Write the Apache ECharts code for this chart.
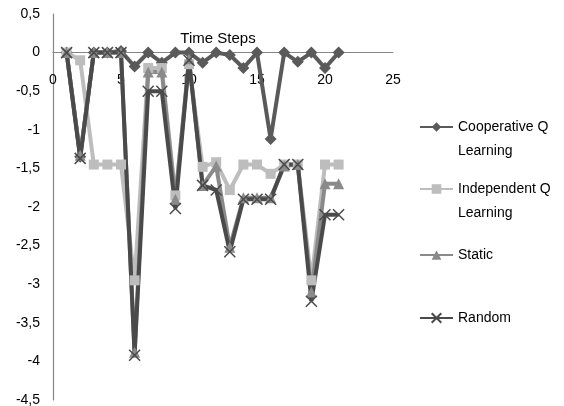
<!DOCTYPE html>
<html><head><meta charset="utf-8">
<script src="https://cdn.jsdelivr.net/npm/echarts@6/dist/echarts.min.js"></script>
<style>html,body{margin:0;padding:0;background:#fff}#c{width:564px;height:406px}</style>
</head><body><div id="c"></div>
<script>
const timeSteps = [1,2,3,4,5,6,7,8,9,10,11,12,13,14,15,16,17,18,19,20,21];
const cooperativeQ = [0,-1.35,0,0,0.02,-0.18,0,-0.13,0,0,-0.13,0,-0.03,-0.2,0,-1.12,0,-0.12,0,-0.2,0];
const independentQ = [0,-0.1,-1.45,-1.45,-1.45,-2.95,-0.2,-0.2,-1.85,-0.15,-1.48,-1.42,-1.78,-1.45,-1.45,-1.57,-1.45,-1.45,-2.95,-1.45,-1.45];
const staticPolicy = [0,-1.33,0,0,0,-3.88,-0.25,-0.25,-1.9,-0.08,-1.72,-1.47,-2.52,-1.88,-1.88,-1.88,-1.47,-1.45,-3.1,-1.7,-1.7];
const randomPolicy = [0,-1.37,0,0,0,-3.92,-0.5,-0.5,-2.02,-0.1,-1.72,-1.78,-2.58,-1.9,-1.9,-1.9,-1.45,-1.45,-3.22,-2.1,-2.1];
const seriesNames = ['Cooperative Q Learning','Independent Q Learning','Static','Random'];
const legendLabels = {'Cooperative Q Learning':' \nCooperative Q\nLearning','Independent Q Learning':' \nIndependent Q\nLearning','Static':'Static','Random':'Random'};

const FONT = '"Liberation Sans",Arial,sans-serif';
const pairs = arr => timeSteps.map((t,i)=>[t,arr[i]]);

const Y_MIN = -4.5, Y_MAX = 0.5;
const GRID = {left:53,right:171,top:14,bottom:6};
const plotH = 406 - GRID.top - GRID.bottom;
const zeroOffset = -(Y_MAX - 0) / (Y_MAX - Y_MIN) * plotH + plotH; // distance from bottom edge to y=0
function mkSeries(name, arr, symbol, size, color, extraItem) {
  return {
    type:'line', name, data:pairs(arr), symbol, symbolSize:size,
    lineStyle:{width:4,color}, itemStyle:Object.assign({color}, extraItem||{}),
    emphasis:{disabled:true}
  };
}
function mkLegend(name, top) {
  return {
    data:[name], orient:'vertical', left:419, top, padding:0, itemWidth:33, itemHeight:12,
    selectedMode:false, formatter: n => legendLabels[n],
    textStyle:{fontFamily:FONT,fontSize:14,color:'#000',lineHeight:24}
  };
}

const chart = echarts.init(document.getElementById('c'), null, {renderer:'canvas'});
chart.setOption({
  animation:false,
  backgroundColor:'#fff',
  grid:Object.assign({containLabel:false,outerBoundsMode:'none'},GRID),
  xAxis:{type:'value',min:0,max:25,interval:5,position:'bottom',offset:-zeroOffset,
    name:'Time Steps',nameLocation:'middle',nameGap:-21,
    nameTextStyle:{fontFamily:FONT,fontSize:15,color:'#000',padding:[0,10,0,0]},
    axisLine:{onZero:false,lineStyle:{color:'#868686',width:1.2}},
    axisTick:{show:false},splitLine:{show:false},
    axisLabel:{margin:21,fontFamily:FONT,fontSize:14,color:'#000'}},
  yAxis:{type:'value',min:Y_MIN,max:Y_MAX,interval:0.5,
    axisLine:{show:true,lineStyle:{color:'#868686',width:1.2}},
    axisTick:{show:false},splitLine:{show:false},
    axisLabel:{margin:13,fontFamily:FONT,fontSize:14,color:'#000',formatter:v=>String(v).replace('.',',')}},
  legend:[mkLegend(seriesNames[0],91),mkLegend(seriesNames[1],153),mkLegend(seriesNames[2],243),mkLegend(seriesNames[3],306)],
  series:[
    mkSeries(seriesNames[0],cooperativeQ,'diamond',12,'#5a5a5a'),
    mkSeries(seriesNames[1],independentQ,'rect',10,'#bdbdbd'),
    mkSeries(seriesNames[2],staticPolicy,'triangle',11,'#8a8a8a'),
    mkSeries(seriesNames[3],randomPolicy,'path://M0,0L10,10M10,0L0,10',11,'#4a4a4a',{borderColor:'#4a4a4a',borderWidth:1.5})
  ]
});
</script></body></html>
